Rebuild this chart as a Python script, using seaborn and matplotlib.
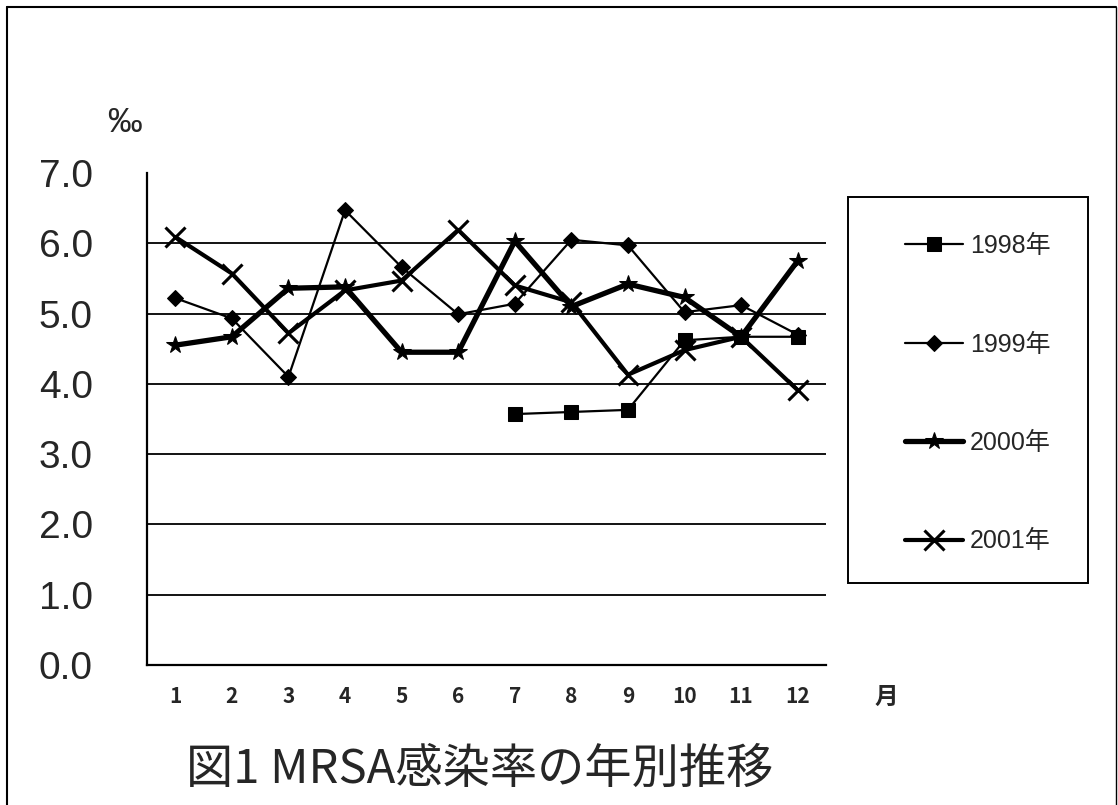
import numpy as np
import pandas as pd
import matplotlib.pyplot as plt
import seaborn as sns
from matplotlib.lines import Line2D
from matplotlib.patches import Rectangle

# Data
months = list(range(1, 13))
y1998 = [np.nan] * 6 + [3.57, 3.60, 3.63, 4.62, 4.67, 4.67]
y1999 = [5.22, 4.93, 4.10, 6.47, 5.66, 4.99, 5.14, 6.05, 5.97, 5.02, 5.12, 4.70]
y2000 = [4.55, 4.67, 5.36, 5.38, 4.45, 4.45, 6.03, 5.10, 5.42, 5.23, 4.67, 5.75]
y2001 = [6.09, 5.57, 4.72, 5.33, 5.47, 6.19, 5.40, 5.16, 4.13, 4.48, 4.67, 3.91]
labels = ['1998年', '1999年', '2000年', '2001年']
yticks = [0, 1, 2, 3, 4, 5, 6, 7]

sns.set_style('white')
plt.rcParams['font.family'] = ['Liberation Sans', 'Noto Sans CJK JP', 'DejaVu Sans']

fig = plt.figure(figsize=(11.18, 8.05), dpi=100)
ax = fig.add_axes([0.1315, 0.1739, 0.6073, 0.6112])

styles = [
    dict(marker='s', markersize=10, linewidth=1.6),
    dict(marker='D', markersize=8, linewidth=1.6),
    dict(marker='*', markersize=13, linewidth=3.8),
    dict(marker='x', markersize=15, linewidth=3.0, markeredgewidth=2.2),
]
for vals, lab, st in zip([y1998, y1999, y2000, y2001], labels, styles):
    df = pd.DataFrame({'month': months, 'rate': vals})
    sns.lineplot(data=df, x='month', y='rate', ax=ax, color='black',
                 label=lab, markeredgecolor='black', **st)

# grid lines at 1..6
for v in yticks[1:-1]:
    ax.axhline(v, color='black', linewidth=1.3, zorder=0)

ax.set_xlim(0.5, 12.5)
ax.set_ylim(0, 7)
ax.set_yticks(yticks)
ax.set_yticklabels(['{:.1f}'.format(v) for v in yticks], fontsize=28)
ax.set_xticks(months)
ax.set_xticklabels([str(m) for m in months], fontsize=15, fontweight='bold',
                   family=['Noto Sans CJK JP'])
ax.set_xticks(np.arange(0.5, 13, 1), minor=True)
ax.tick_params(axis='y', direction='in', length=11, width=1.3, pad=39)
ax.tick_params(axis='x', which='major', length=0, pad=15)
ax.tick_params(axis='x', which='minor', direction='in', length=7, width=1.3)
ax.set_xlabel('')
ax.set_ylabel('')
for s in ['top', 'right']:
    ax.spines[s].set_visible(False)
for s in ['left', 'bottom']:
    ax.spines[s].set_color('black')
    ax.spines[s].set_linewidth(1.6)

fig.text(0.096, 0.848, '‰', fontsize=25, ha='left', va='center')
fig.text(0.782, 0.134, '月', fontsize=17, fontweight='bold', ha='left', va='center',
         family=['Noto Sans CJK JP'])
fig.text(0.429, 0.044, '図1 MRSA感染率の年別推移', fontsize=34, ha='center', va='center',
         family=['Noto Sans CJK JP'])

# legend box drawn separately, entries placed inside
fig.add_artist(Rectangle((848 / 1118, 1 - 583 / 805), 240 / 1118, 386 / 805,
                         transform=fig.transFigure, fill=False, edgecolor='black', linewidth=1.4))
leg = ax.legend(loc='upper left', bbox_to_anchor=(905 / 1118, 1 - 234 / 805),
                bbox_transform=fig.transFigure, frameon=False,
                labelspacing=2.98, handlelength=2.3, handletextpad=0.3,
                borderpad=0, borderaxespad=0,
                prop={'family': ['Liberation Sans', 'Noto Sans CJK JP'], 'size': 18})

# figure border (left, top, right)
fig.add_artist(Line2D([0.0065, 0.0065], [0, 0.991], color='black', linewidth=1.5))
fig.add_artist(Line2D([0.0065, 0.998], [0.991, 0.991], color='black', linewidth=1.5))
fig.add_artist(Line2D([0.998, 0.998], [0, 0.991], color='black', linewidth=1.0))

plt.savefig('out.png', dpi=100)
